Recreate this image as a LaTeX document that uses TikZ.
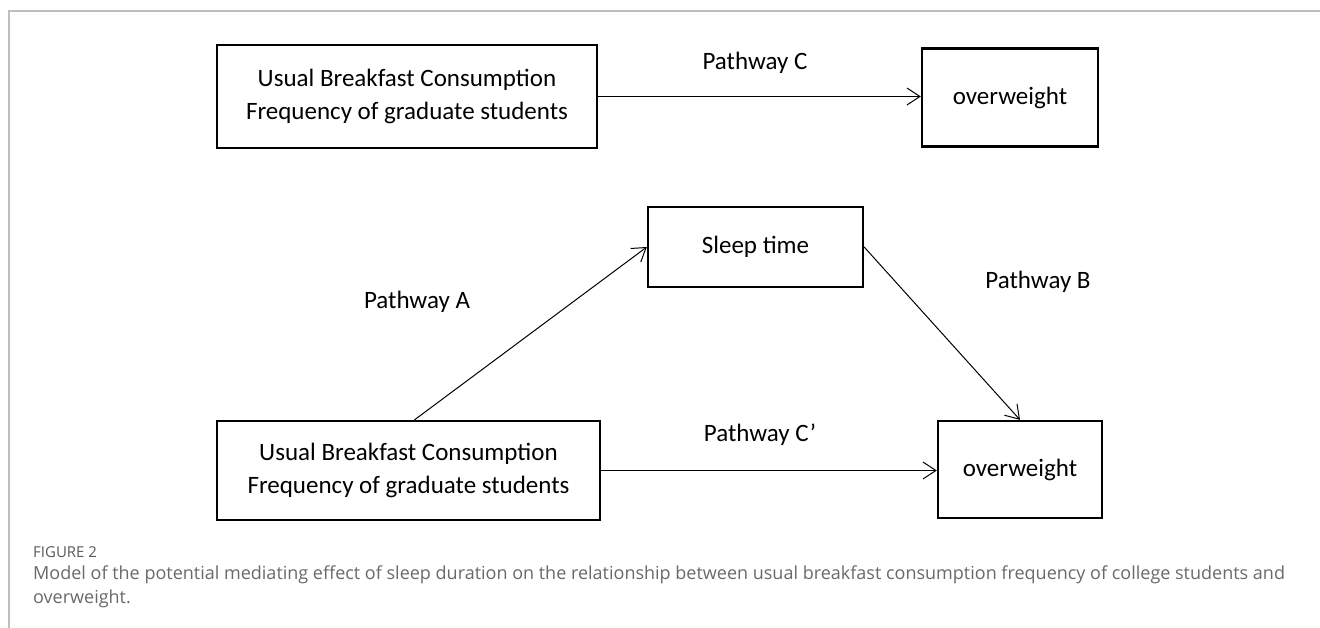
\documentclass[tikz,border=0pt]{standalone}
\usepackage{fontspec}
\setmainfont{Carlito}
\newfontfamily\capfont{Open Sans}
\usetikzlibrary{arrows.meta}
\definecolor{capgray}{RGB}{105,105,105}
\definecolor{framegray}{RGB}{190,190,190}
\begin{document}
\begin{tikzpicture}[x=1pt, y=-1pt,
  box/.style={draw, line width=2.3pt, inner sep=0pt, align=center, font=\fontsize{25}{33}\selectfont},
  path label/.style={font=\fontsize{25}{33}\selectfont},
  link/.style={-{Straight Barb[length=13pt, width=17pt]}, line width=1pt}]
\useasboundingbox (0,0) rectangle (1320,628);
% frame
\draw[framegray, line width=1.5pt] (9,628) -- (9,11) -- (1320,11);

% direct path
\node[box, minimum width=380, minimum height=103] (Breakfast 1) at (407,96.5) {Usual Breakfast Consumption\\Frequency of graduate students};
\node[box, minimum width=176, minimum height=98] (Overweight 1) at (1010,97.5) {overweight};
\node[path label] (Label C) at (755,63) {Pathway C};

% mediated path
\node[box, minimum width=215, minimum height=80] (Sleep) at (755.5,247) {Sleep time};
\node[box, minimum width=383, minimum height=99] (Breakfast 2) at (408.5,470.5) {Usual Breakfast Consumption\\Frequency of graduate students};
\node[box, minimum width=164, minimum height=97] (Overweight 2) at (1020,469.5) {overweight};
\node[path label] (Label A) at (417,302) {Pathway A};
\node[path label] (Label B) at (1038,282) {Pathway B};
\node[path label] (Label Cp) at (760,435) {Pathway C’};

\draw[link] (Breakfast 1.east) -- (Breakfast 1.east -| Overweight 1.west);
\draw[link] ([xshift=6pt]Breakfast 2.north) -- (Sleep.west);
\draw[link] (Sleep.east) -- (Overweight 2.north);
\draw[link] (Breakfast 2.east) -- (Breakfast 2.east -| Overweight 2.west);

% caption
\node[anchor=base west, inner sep=0pt, text=capgray!85!black, font=\capfont\fontsize{15}{18}\selectfont] (Fig) at (33,557) {FIGURE 2};
\node[anchor=north west, inner sep=0pt, text=capgray, align=left, font=\capfont\fontsize{18}{24}\selectfont] (Caption) at (33,566) {Model of the potential mediating effect of sleep duration on the relationship between usual breakfast consumption frequency of college students and\\overweight.};
\end{tikzpicture}
\end{document}
